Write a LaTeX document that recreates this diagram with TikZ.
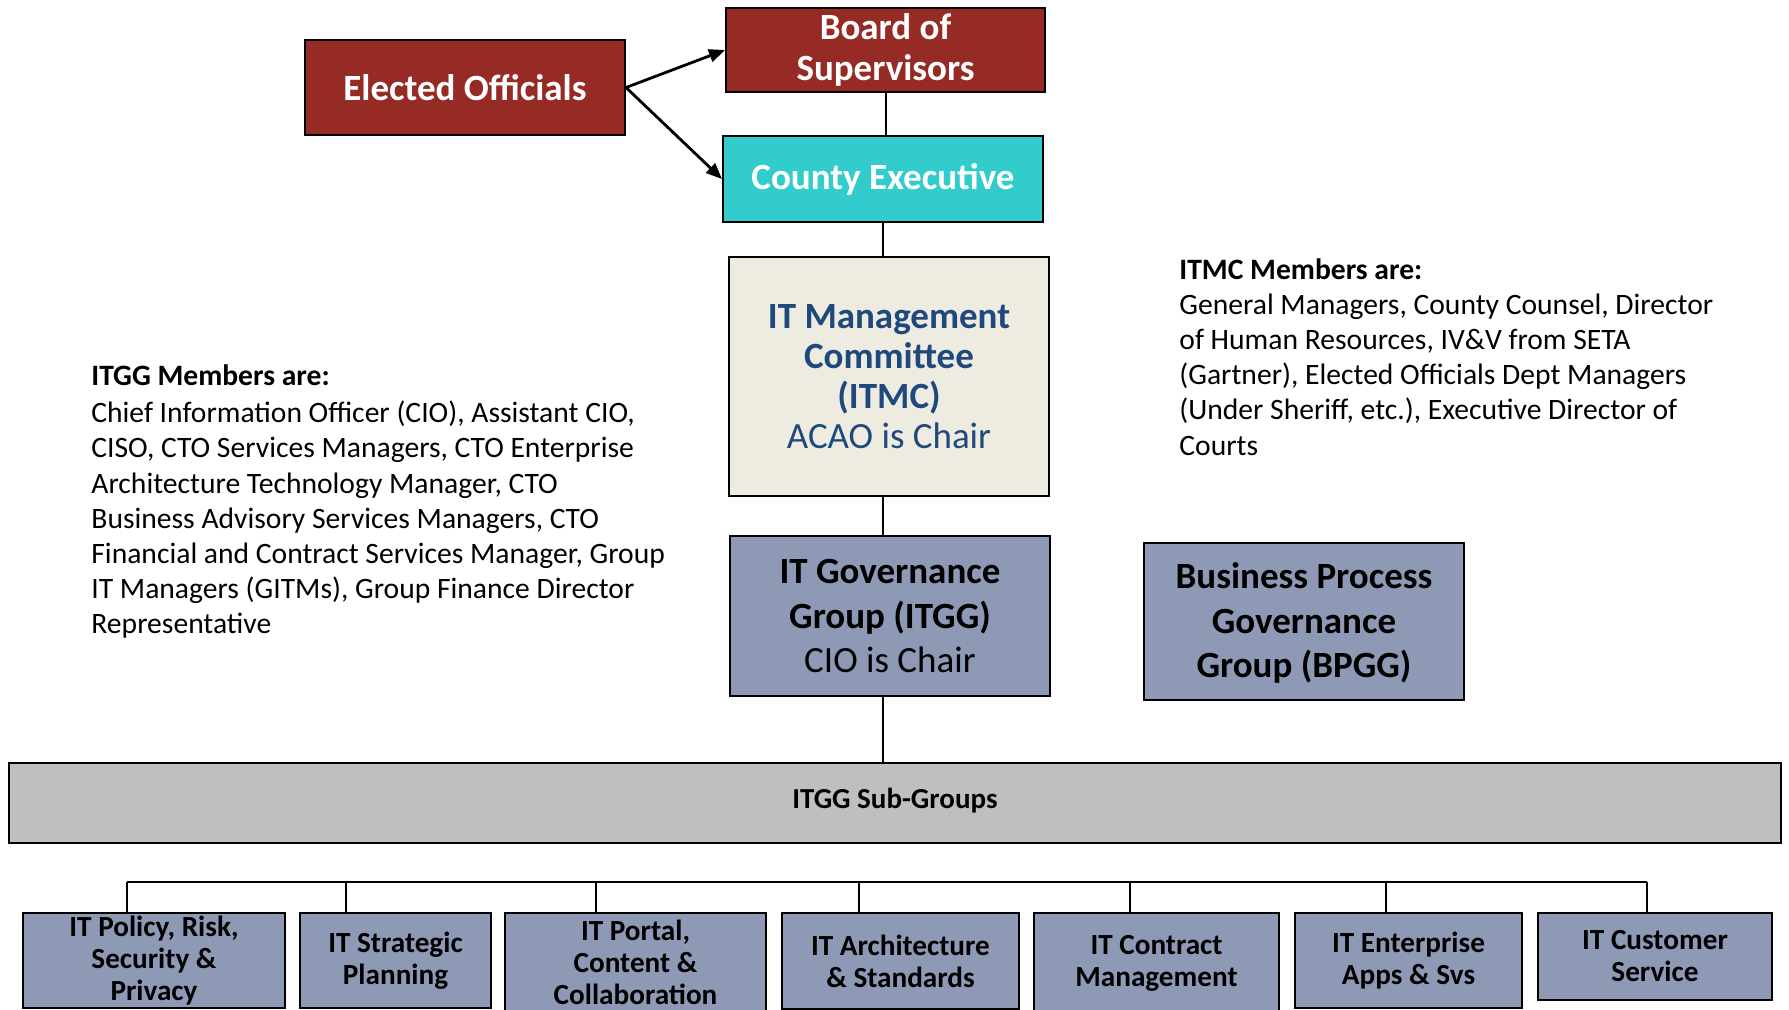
\documentclass[tikz,border=0pt]{standalone}
\usepackage{fontspec}
\setmainfont{Carlito}
\usetikzlibrary{arrows.meta}
\definecolor{dred}{HTML}{962B26}
\definecolor{tealc}{HTML}{33CCCC}
\definecolor{beigec}{HTML}{EEECE1}
\definecolor{navyc}{HTML}{1F497D}
\definecolor{slatec}{HTML}{8E9AB5}
\definecolor{lgreyc}{HTML}{BFBFBF}
\tikzset{
  basebox/.style={draw=black, line width=1pt, inner sep=0pt, align=center},
  bigfont/.style={font=\fontsize{18.5pt}{20.5pt}\selectfont\bfseries},
  redbox/.style={basebox, bigfont, fill=dred, text=white},
  tealbox/.style={basebox, bigfont, fill=tealc, text=white},
  itmcbox/.style={basebox, fill=beigec, text=navyc, font=\fontsize{18.5pt}{20pt}\selectfont},
  govbox/.style={basebox, fill=slatec, text=black, font=\fontsize{18.5pt}{22.25pt}\selectfont},
  subbar/.style={basebox, fill=lgreyc, font=\fontsize{14.5pt}{16pt}\selectfont\bfseries},
  subbox/.style={basebox, fill=slatec, anchor=north, font=\fontsize{14.6pt}{16pt}\selectfont\bfseries},
  members/.style={anchor=north west, inner sep=0pt, align=left, font=\fontsize{14.8pt}{17.6pt}\selectfont},
  conn/.style={line width=1pt},
  arr/.style={line width=1.4pt, -{Triangle[length=8pt,width=6.5pt]}}
}
\begin{document}
\begin{tikzpicture}[x=0.5pt,y=-0.5pt]
\useasboundingbox (0,0) rectangle (1789,1009);

% top boxes
\node[redbox, minimum width=160pt, minimum height=47.5pt] (elected) at (465,87.5) {Elected Officials};
\node[redbox, minimum width=159.5pt, minimum height=42pt] (board) at (885.5,50) {Board of\\Supervisors};
\node[tealbox, minimum width=160pt, minimum height=43pt] (county) at (883,179) {County Executive};
\node[itmcbox, minimum width=160pt, minimum height=119.5pt] (itmc) at (889,376.5) {\textbf{IT Management}\\\textbf{Committee}\\\textbf{(ITMC)}\\ACAO is Chair};
\node[govbox, minimum width=160pt, minimum height=80pt] (itgg) at (890,616) {\textbf{IT Governance}\\\textbf{Group (ITGG)}\\CIO is Chair};
\node[govbox, minimum width=160pt, minimum height=78.5pt] (bpgg) at (1304,621.5) {\rule{0pt}{14.4pt}\textbf{Business Process}\\\textbf{Governance}\\\textbf{Group (BPGG)}};
\node[subbar, minimum width=886pt, minimum height=40pt] (sub) at (895,803) {ITGG Sub-Groups\rule[-5pt]{0pt}{0pt}};

% member texts
\node[members] (itggm) at (91,364) {\textbf{ITGG Members are:}\\[1.2pt]
Chief Information Officer (CIO), Assistant CIO,\\
CISO, CTO Services Managers, CTO Enterprise\\
Architecture Technology Manager, CTO\\
Business Advisory Services Managers, CTO\\
Financial and Contract Services Manager, Group\\
IT Managers (GITMs), Group Finance Director\\
Representative};
\node[members] (itmcm) at (1179,258) {\textbf{ITMC Members are:}\\
General Managers, County Counsel, Director\\
of Human Resources, IV\&V from SETA\\
(Gartner), Elected Officials Dept Managers\\
(Under Sheriff, etc.), Executive Director of\\
Courts};

% bottom boxes
\node[subbox, minimum width=131pt, minimum height=47.5pt] (b1) at (154,912) {IT Policy, Risk,\\Security \&\\Privacy};
\node[subbox, minimum width=95.5pt, minimum height=47.5pt] (b2) at (395.5,912) {IT Strategic\\Planning};
\node[subbox, minimum width=130.5pt, minimum height=49pt] (b3) at (635.5,912) {IT Portal,\\Content \&\\Collaboration};
\node[subbox, minimum width=118.5pt, minimum height=48pt] (b4) at (900.5,912) {IT Architecture\\\& Standards};
\node[subbox, minimum width=122.5pt, minimum height=50pt] (b5) at (1156.5,912) {IT Contract\\Management};
\node[subbox, minimum width=113.5pt, minimum height=47.5pt] (b6) at (1408.5,912) {IT Enterprise\\Apps \& Svs};
\node[subbox, minimum width=117pt, minimum height=43.5pt] (b7) at (1655,912) {IT Customer\\Service};

% connectors
\draw[arr] (elected.east) -- (board.west);
\draw[arr] (elected.east) -- (county.west);
\draw[conn] (board.south) -- (board.south |- county.north);
\draw[conn] (county.south) -- (county.south |- itmc.north);
\draw[conn] (itmc.south -| county.south) -- (itgg.north -| county.south);
\draw[conn] (itgg.south -| county.south) -- (sub.north -| county.south);

\coordinate (t1) at (127,882);
\coordinate (t2) at (346,882);
\coordinate (t3) at (596,882);
\coordinate (t4) at (859,882);
\coordinate (t5) at (1130,882);
\coordinate (t6) at (1386,882);
\coordinate (t7) at (1647,882);
\draw[conn] (t1) -- (t7);
\foreach \i in {1,...,7} {
  \draw[conn] (t\i) -- (t\i |- b\i.north);
}
\end{tikzpicture}
\end{document}
